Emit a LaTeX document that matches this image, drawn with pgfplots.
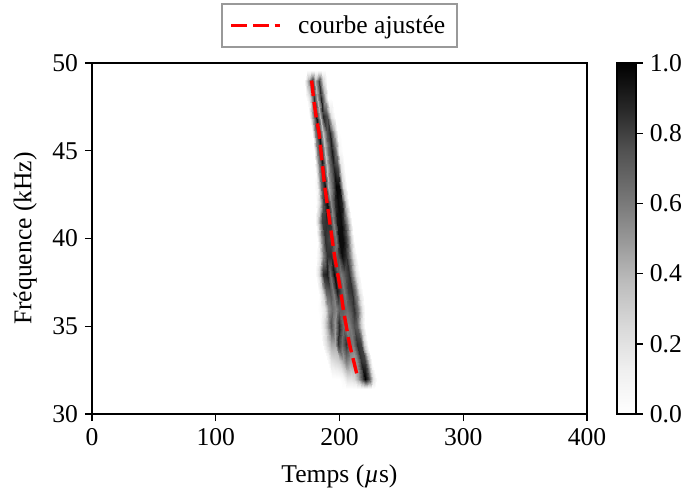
\documentclass[border=0pt]{standalone}
\usepackage{pgfplots}
\pgfplotsset{compat=1.18}
\usepackage{fontspec}
\setmainfont{Liberation Serif}
\begin{document}
\begin{tikzpicture}
\useasboundingbox (-46pt,-39.5pt) rectangle (297pt,207pt);
\begin{axis}[
  at={(0,0)},anchor=south west,
  scale only axis,width=247.5pt,height=175.5pt,
  xmin=0,xmax=400,ymin=30,ymax=50,
  xtick={0,100,200,300,400},ytick={30,35,40,45,50},
  /pgf/number format/assume math mode=true,
  tick label style={font=\fontsize{12.8}{15}\selectfont},
  label style={font=\fontsize{12.8}{15}\selectfont},
  xlabel={Temps ({\itshape µ}s)},ylabel={Fréquence (kHz)},
  xlabel style={at={(axis description cs:0.5,0)},anchor=north,yshift=-22pt},
  ylabel style={at={(axis description cs:0,0.5)},anchor=south,yshift=24pt},
  tick align=outside,tick pos=left,major tick length=3.5pt,
  every tick/.style={black,line width=0.7pt},
  axis line style={line width=0.9pt},
  axis on top,
  point meta min=0,point meta max=1,
  colormap={greys}{gray(0cm)=(1);gray(1cm)=(0.94);gray(2cm)=(0.85);gray(3cm)=(0.74);gray(4cm)=(0.59);gray(5cm)=(0.45);gray(6cm)=(0.32);gray(7cm)=(0.15);gray(8cm)=(0)},
  colorbar,
  colorbar shift/.style={xshift=2pt},
  colorbar style={
    width=9.5pt,height=175.5pt,
    ytick={0,0.2,0.4,0.6,0.8,1},
    yticklabel style={font=\fontsize{12.8}{15}\selectfont,/pgf/number format/fixed,/pgf/number format/fixed zerofill,/pgf/number format/precision=1,/pgf/number format/assume math mode=true},
    tick pos=right,tick align=outside,major tick length=3.5pt,
    every tick/.style={black,line width=0.7pt},
    axis line style={line width=0.9pt},
  },
  legend style={at={(axis description cs:0.5,1)},anchor=south,yshift=7.5pt,
    draw=black!40,line width=1pt,font=\fontsize{12.8}{15}\selectfont,
    inner xsep=4pt,inner ysep=3.5pt},
  legend cell align=left,
  legend image code/.code={\draw[#1] (0cm,0cm) -- (24.5pt,0cm);},
]
\addplot[surf,shader=interp,mesh/cols=15,point meta=explicit,forget plot] coordinates {
(156,49.6)[0] (159,49.6)[0] (162,49.6)[0] (165,49.6)[0] (168,49.6)[0] (171,49.6)[0] (174,49.6)[0] (177,49.6)[0] (180,49.6)[0] (183,49.6)[0] (186,49.6)[0] (189,49.6)[0] (192,49.6)[0] (195,49.6)[0] (198,49.6)[0]
(156.5,49)[0] (159.5,49)[0] (162.5,49)[0] (165.5,49)[0] (168.5,49)[0] (171.5,49)[0] (174.5,49)[.45] (177.5,49)[.85] (180.5,49)[.4] (183.5,49)[.8] (186.5,49)[.25] (189.5,49)[0] (192.5,49)[0] (195.5,49)[0] (198.5,49)[0]
(158,48)[0] (161,48)[0] (164,48)[0] (167,48)[0] (170,48)[0] (173,48)[0] (176,48)[.25] (179,48)[.85] (182,48)[.4] (185,48)[.9] (188,48)[.4] (191,48)[0] (194,48)[0] (197,48)[0] (200,48)[0]
(160,47)[0] (163,47)[0] (166,47)[0] (169,47)[0] (172,47)[0] (175,47)[0] (178,47)[.4] (181,47)[.92] (184,47)[.4] (187,47)[.88] (190,47)[.75] (193,47)[.2] (196,47)[0] (199,47)[0] (202,47)[0]
(162.5,46)[0] (165.5,46)[0] (168.5,46)[0] (171.5,46)[0] (174.5,46)[0] (177.5,46)[0] (180.5,46)[.55] (183.5,46)[.92] (186.5,46)[.35] (189.5,46)[.75] (192.5,46)[.88] (195.5,46)[.45] (198.5,46)[0] (201.5,46)[0] (204.5,46)[0]
(164,45)[0] (167,45)[0] (170,45)[0] (173,45)[0] (176,45)[0] (179,45)[0] (182,45)[.55] (185,45)[.96] (188,45)[.35] (191,45)[.65] (194,45)[.92] (197,45)[.6] (200,45)[.08] (203,45)[0] (206,45)[0]
(165.5,44)[0] (168.5,44)[0] (171.5,44)[0] (174.5,44)[0] (177.5,44)[0] (180.5,44)[0] (183.5,44)[.55] (186.5,44)[.92] (189.5,44)[.35] (192.5,44)[.65] (195.5,44)[.88] (198.5,44)[.75] (201.5,44)[.2] (204.5,44)[0] (207.5,44)[0]
(167,43)[0] (170,43)[0] (173,43)[0] (176,43)[0] (179,43)[0] (182,43)[.08] (185,43)[.65] (188,43)[.96] (191,43)[.4] (194,43)[.65] (197,43)[.98] (200,43)[.96] (203,43)[.25] (206,43)[0] (209,43)[0]
(169,42)[0] (172,42)[0] (175,42)[0] (178,42)[0] (181,42)[0] (184,42)[.3] (187,42)[.75] (190,42)[.96] (193,42)[.55] (196,42)[.85] (199,42)[.96] (202,42)[.88] (205,42)[.3] (208,42)[0] (211,42)[0]
(171,41)[0] (174,41)[0] (177,41)[0] (180,41)[0] (183,41)[.3] (186,41)[.8] (189,41)[.85] (192,41)[.85] (195,41)[.55] (198,41)[.92] (201,41)[.96] (204,41)[.8] (207,41)[.4] (210,41)[0] (213,41)[0]
(173,40)[0] (176,40)[0] (179,40)[0] (182,40)[0] (185,40)[.45] (188,40)[.85] (191,40)[.8] (194,40)[.75] (197,40)[.6] (200,40)[.96] (203,40)[.96] (206,40)[.75] (209,40)[.3] (212,40)[0] (215,40)[0]
(175,39)[0] (178,39)[0] (181,39)[0] (184,39)[.2] (187,39)[.55] (190,39)[.85] (193,39)[.85] (196,39)[.65] (199,39)[.75] (202,39)[.96] (205,39)[.85] (208,39)[.65] (211,39)[.25] (214,39)[0] (217,39)[0]
(177.5,38)[0] (180.5,38)[0] (183.5,38)[.25] (186.5,38)[.85] (189.5,38)[.92] (192.5,38)[.65] (195.5,38)[.96] (198.5,38)[.7] (201.5,38)[.6] (204.5,38)[.75] (207.5,38)[.85] (210.5,38)[.6] (213.5,38)[.2] (216.5,38)[0] (219.5,38)[0]
(180,37)[0] (183,37)[0] (186,37)[.25] (189,37)[.7] (192,37)[.75] (195,37)[.6] (198,37)[.92] (201,37)[.75] (204,37)[.6] (207,37)[.8] (210,37)[.85] (213,37)[.55] (216,37)[.2] (219,37)[0] (222,37)[0]
(182,36)[0] (185,36)[.05] (188,36)[.2] (191,36)[.5] (194,36)[.65] (197,36)[.55] (200,36)[.7] (203,36)[.7] (206,36)[.65] (209,36)[.75] (212,36)[.85] (215,36)[.6] (218,36)[.2] (221,36)[0] (224,36)[0]
(184.5,35)[0] (187.5,35)[.2] (190.5,35)[.5] (193.5,35)[.75] (196.5,35)[.5] (199.5,35)[.88] (202.5,35)[.65] (205.5,35)[.55] (208.5,35)[.6] (211.5,35)[.75] (214.5,35)[.7] (217.5,35)[.3] (220.5,35)[0] (223.5,35)[0] (226.5,35)[0]
(187,34)[.08] (190,34)[.25] (193,34)[.45] (196,34)[.45] (199,34)[.85] (202,34)[.65] (205,34)[.85] (208,34)[.65] (211,34)[.6] (214,34)[.85] (217,34)[.8] (220,34)[.3] (223,34)[0] (226,34)[0] (229,34)[0]
(190.5,33)[.05] (193.5,33)[.2] (196.5,33)[.25] (199.5,33)[.3] (202.5,33)[.45] (205.5,33)[.6] (208.5,33)[.5] (211.5,33)[.45] (214.5,33)[.55] (217.5,33)[.85] (220.5,33)[.8] (223.5,33)[.3] (226.5,33)[0] (229.5,33)[0] (232.5,33)[0]
(194,32)[0] (197,32)[0] (200,32)[0] (203,32)[.05] (206,32)[.2] (209,32)[.2] (212,32)[.25] (215,32)[.45] (218,32)[.75] (221,32)[1] (224,32)[.75] (227,32)[.2] (230,32)[0] (233,32)[0] (236,32)[0]
(196,31.4)[0] (199,31.4)[0] (202,31.4)[0] (205,31.4)[0] (208,31.4)[0] (211,31.4)[0] (214,31.4)[0] (217,31.4)[0] (220,31.4)[0] (223,31.4)[0] (226,31.4)[0] (229,31.4)[0] (232,31.4)[0] (235,31.4)[0] (238,31.4)[0]
};
\addplot[red,line width=1.7pt,dash pattern=on 7.8pt off 3pt,no marks] coordinates {
(177.5,49) (179,48) (181,47) (183.5,46) (185,45) (186.5,44) (188,43) (190,42) (192,41) (194,40) (196,39) (198.5,38) (201,37) (203,36) (205.5,35) (208,34) (211.5,33) (215,32)
};
\addlegendentry{\hspace{6pt}courbe ajustée}
\end{axis}
\end{tikzpicture}
\end{document}
